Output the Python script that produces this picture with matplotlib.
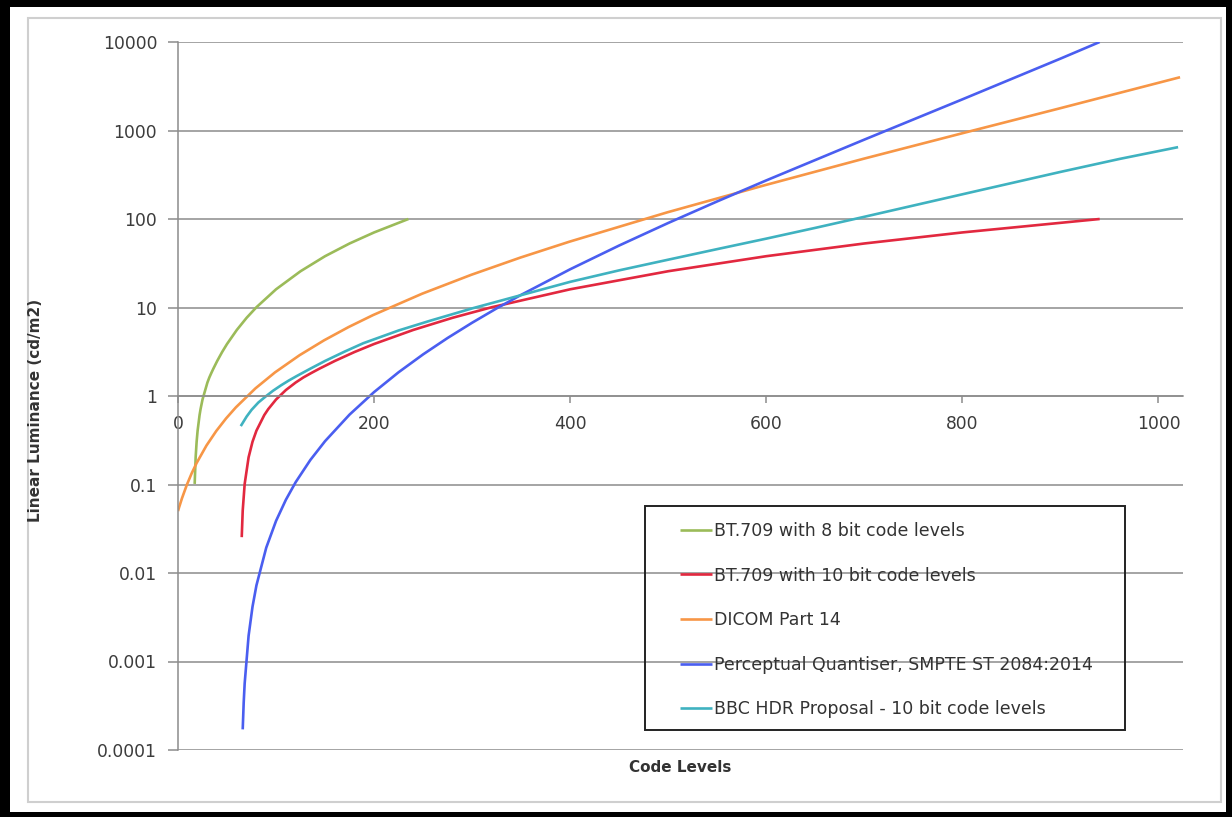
import matplotlib.pyplot as plt
from matplotlib.patches import Rectangle
from matplotlib.ticker import FixedLocator, FixedFormatter, NullLocator

plt.rcParams['font.family'] = ['DejaVu Sans']

# values (code level -> cd/m2)
bt709_8bit_code = [17, 18, 19, 20, 22, 23, 25, 30, 32, 34, 36, 40, 45, 50, 60, 70, 80, 100,
                   125, 150, 175, 200, 235]
bt709_8bit_lum = [0.1015, 0.2029, 0.3044, 0.4059, 0.609, 0.710, 0.913, 1.42, 1.624, 1.82, 2.03,
                  2.49, 3.14, 3.87, 5.58, 7.65, 10.07, 16.06, 25.7, 38.0, 52.9, 70.5, 100]

bt709_10bit_code = [65, 66, 68, 72, 76, 80, 88, 92, 100, 110, 120, 128, 136, 144, 160, 180,
                    200, 240, 280, 320, 400, 500, 600, 700, 800, 940]
bt709_10bit_lum = [0.0254, 0.0507, 0.1015, 0.2029, 0.3044, 0.4059, 0.609, 0.710, 0.913, 1.167,
                   1.42, 1.624, 1.82, 2.03, 2.49, 3.14, 3.87, 5.58, 7.65, 10.07, 16.06, 25.7,
                   38.0, 52.9, 70.5, 100]

dicom_code = [0, 1, 4, 9, 14, 19, 29, 39, 49, 59, 79, 99, 124, 149, 174, 199, 249, 299, 349,
              399, 499, 599, 699, 799, 899, 1022]
dicom_lum = [0.05, 0.0547, 0.0696, 0.0991, 0.1342, 0.175, 0.2753, 0.402, 0.5574, 0.7437, 1.22,
             1.851, 2.891, 4.258, 6.015, 8.216, 14.32, 23.39, 36.59, 55.32, 118.9, 241.7, 478.7,
             925.4, 1776, 4000]

pq_code = [66, 67, 68, 72, 76, 80, 90, 100, 110, 120, 135, 150, 175, 200, 225, 250, 275, 300,
           325, 350, 400, 450, 500, 550, 600, 700, 800, 900, 940]
pq_lum = [0.000171, 0.000343, 0.000566, 0.001955, 0.004165, 0.00725, 0.01933, 0.0388, 0.0671,
          0.1062, 0.1894, 0.309, 0.617, 1.108, 1.856, 2.954, 4.526, 6.73, 9.78, 13.9, 27.05,
          50.2, 90.2, 158.2, 273, 789, 2249, 6486, 10000]

bbc_code = [64, 70, 75, 82, 90, 97, 105, 113, 121, 135, 150, 170, 189, 225, 257, 300, 350, 400,
            450, 500, 550, 600, 650, 700, 750, 818, 900, 960, 1020]
bbc_lum = [0.457, 0.586, 0.697, 0.845, 1.0, 1.148, 1.318, 1.496, 1.679, 2.037, 2.489, 3.177,
           3.95, 5.5, 7.08, 9.77, 13.8, 19.5, 26.3, 34.7, 45.7, 60.0, 79.4, 105.9, 141.9, 211.3,
           340.4, 476.4, 648.6]

series = [
    ('BT.709 with 8 bit code levels', bt709_8bit_code, bt709_8bit_lum, '#9bbb59'),
    ('BT.709 with 10 bit code levels', bt709_10bit_code, bt709_10bit_lum, '#e2283f'),
    ('DICOM Part 14', dicom_code, dicom_lum, '#f79646'),
    ('Perceptual Quantiser, SMPTE ST 2084:2014', pq_code, pq_lum, '#4a5ef0'),
    ('BBC HDR Proposal - 10 bit code levels', bbc_code, bbc_lum, '#3fb2c0'),
]

y_ticks = [1e-4, 1e-3, 1e-2, 1e-1, 1, 10, 100, 1000, 10000]
y_labels = ['0.0001', '0.001', '0.01', '0.1', '1', '10', '100', '1000', '10000']
x_ticks = [0, 200, 400, 600, 800, 1000]

W, H = 1232, 817
fig = plt.figure(figsize=(W / 100, H / 100), dpi=100, facecolor='black')
fig.patches.append(Rectangle((10 / W, 1 - 812 / H), 1216 / W, 805 / H, transform=fig.transFigure,
                             facecolor='white', edgecolor='none', zorder=-10))
fig.patches.append(Rectangle((28 / W, 1 - 802 / H), 1193 / W, 784 / H, transform=fig.transFigure,
                             fill=False, edgecolor='#cfcfcf', lw=1.5, zorder=-5))

ax = fig.add_axes([178 / W, 1 - 750 / H, 1005 / W, 708 / H])
ax.set_facecolor('none')
ax.set_yscale('log')
ax.set_ylim(1e-4, 1e4)
ax.set_xlim(0, 1025)

for label, xs, ys, color in series:
    ax.plot(xs, ys, color=color, lw=1.9, label=label, solid_capstyle='butt', solid_joinstyle='round')

grey = '#8c8c8c'
ax.yaxis.set_major_locator(FixedLocator(y_ticks))
ax.yaxis.set_major_formatter(FixedFormatter(y_labels))
ax.yaxis.set_minor_locator(NullLocator())
ax.set_xticks(x_ticks)
ax.grid(axis='y', color=grey, lw=1.1)
ax.grid(axis='x', visible=False)
ax.set_axisbelow(True)

ax.spines['top'].set_visible(False)
ax.spines['right'].set_visible(False)
ax.spines['left'].set_color(grey)
ax.spines['left'].set_linewidth(1.1)
ax.spines['bottom'].set_position(('data', 1))
ax.spines['bottom'].set_color(grey)
ax.spines['bottom'].set_linewidth(1.1)

ax.tick_params(axis='y', length=7, width=1.1, color=grey, pad=8, labelsize=12.3, labelcolor='#3c3c3c')
ax.tick_params(axis='x', length=5, width=1.1, color=grey, pad=9, labelsize=12.3, labelcolor='#3c3c3c')

fig.text(680 / W, 1 - 768 / H, 'Code Levels', ha='center', va='center',
         fontsize=11, fontweight='bold', color='#333333')
fig.text(36 / W, 1 - 410 / H, 'Linear Luminance (cd/m2)', ha='center', va='center',
         rotation=90, fontsize=11, fontweight='bold', color='#333333')

leg = ax.legend(loc='upper left', bbox_to_anchor=(680 / W, 1 - 522 / H),
                bbox_transform=fig.transFigure, frameon=False, fontsize=12.5,
                handlelength=1.85, handletextpad=0.1, labelspacing=1.53,
                borderpad=0, borderaxespad=0)
for t in leg.get_texts():
    t.set_color('#333333')
fig.patches.append(Rectangle((645 / W, 1 - 730 / H), 480 / W, 224 / H, transform=fig.transFigure,
                             fill=False, edgecolor='#222222', lw=1.4, zorder=5))

fig.savefig('out.png', dpi=100, facecolor=fig.get_facecolor())
